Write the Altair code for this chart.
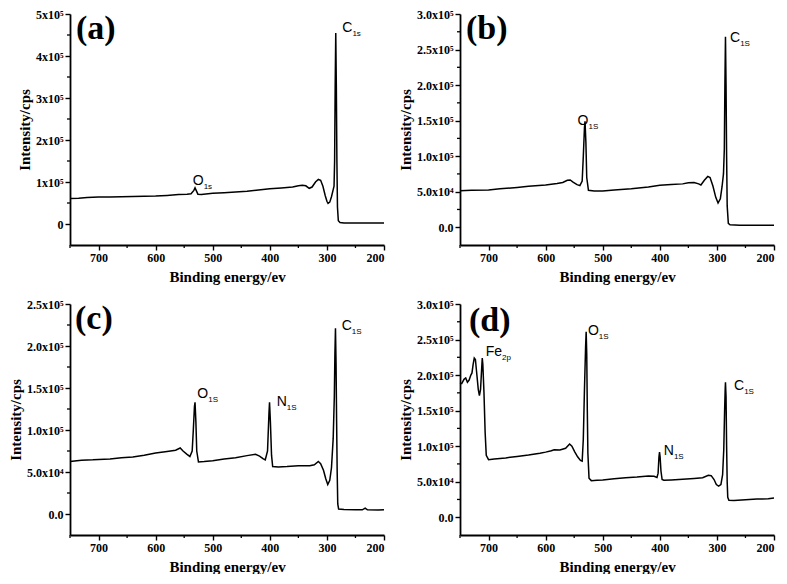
import altair as alt
import pandas as pd

# ---------------- data ----------------
a_x = [750, 735, 720, 700, 680, 660, 640, 620, 600, 580, 560, 545, 538, 533, 531, 529, 526, 520, 500, 480,
       460, 440, 420, 400, 380, 360, 350, 343, 337, 331, 326, 320, 315, 311, 307, 303, 300, 298, 295, 292,
       289, 287.5, 286.5, 285.5, 284.5, 283.5, 282.5, 281.5, 280, 277, 270, 250, 230, 200]
a_y = [61000, 61500, 63000, 64000, 64500, 65000, 65500, 66000, 66500, 68000, 70000, 71000, 72000, 80000, 86000,
       80000, 71000, 70500, 73000, 74500, 76000, 78000, 81000, 84000, 86000, 88000, 91000, 92500, 91000, 85000,
       88000, 100000, 106000, 104000, 90000, 68000, 54000, 49000, 52000, 65000, 82000, 90000, 150000, 330000,
       455000, 330000, 150000, 40000, 8000, 3500, 2500, 2500, 2500, 2500]

b_x = [750, 730, 700, 680, 650, 630, 600, 580, 570, 562, 557, 552, 545, 540, 536, 534, 532, 531, 529.5, 528,
       525, 515, 500, 480, 450, 420, 400, 380, 360, 350, 340, 332, 328, 322, 316, 312, 307, 302, 298, 294,
       291, 288.5, 287, 286, 285, 284, 283, 282, 280, 277, 260, 240, 200]
b_y = [51500, 52000, 52500, 54000, 56000, 57500, 59300, 61500, 63000, 66000, 66500, 63500, 60000, 58500, 65000,
       100000, 140000, 149000, 120000, 70000, 52000, 51000, 51000, 52500, 54000, 56500, 59000, 60000, 61000,
       62500, 63000, 61000, 59500, 66000, 71500, 70000, 58000, 42000, 34000, 40000, 57000, 75000, 110000,
       200000, 268000, 200000, 100000, 30000, 5500, 3500, 2800, 2800, 2800]

c_x = [750, 730, 710, 700, 680, 660, 640, 620, 600, 580, 565, 557, 552, 545, 540, 536, 534, 532, 531, 529.5,
       528, 525, 515, 500, 480, 460, 440, 425, 418, 412, 408, 404, 401.5, 400.5, 399, 397, 395, 385, 370, 350,
       330, 322, 315, 311, 306, 302, 298.5, 295, 292, 289, 287, 286, 285, 284, 283, 282, 281, 279.5, 270, 250,
       238, 233, 229, 210, 200]
c_y = [62500, 64000, 64500, 65000, 65500, 67000, 68000, 70000, 72500, 74500, 76000, 78600, 75000, 71000, 68500,
       75000, 100000, 128000, 133000, 110000, 75000, 62000, 62500, 63500, 65500, 67000, 69500, 71000, 69000,
       66000, 64500, 75000, 120000, 133000, 110000, 70000, 56500, 56000, 56500, 57500, 57500, 58500, 62500,
       60000, 52000, 42000, 35000, 40000, 55000, 90000, 140000, 190000, 221000, 180000, 110000, 50000, 12000,
       6000, 5500, 5000, 5000, 7000, 5000, 4800, 5000]

d_x = [750, 747, 743, 740, 737, 734, 731, 729, 727, 725, 723, 721, 718, 716, 714, 712, 711, 710, 708, 706,
       704, 700, 690, 670, 650, 630, 610, 600, 590, 585, 575, 565, 558, 554, 549, 544, 539, 536, 534, 532,
       530, 529, 528, 527, 526, 524, 520, 510, 500, 480, 460, 440, 420, 410, 405, 403, 401.5, 400.5, 399.5,
       398, 396, 393, 380, 360, 340, 325, 315, 310, 305, 301, 297, 293, 290, 288, 286.5, 285.5, 285, 284,
       283, 282, 281, 279, 270, 250, 230, 210, 200]
d_y = [189000, 188000, 194000, 196000, 190000, 193000, 200000, 203000, 215000, 224000, 222000, 205000, 180000,
       171000, 180000, 210000, 224000, 215000, 175000, 120000, 87000, 81000, 82000, 83500, 85600, 87500, 90000,
       91600, 93500, 95000, 94500, 97000, 103000, 100000, 92000, 85000, 80000, 79000, 110000, 180000, 240000,
       261000, 230000, 150000, 90000, 55000, 51500, 52000, 52500, 54000, 55500, 56500, 58000, 57500, 56000,
       62000, 85000, 91600, 85000, 65000, 53000, 52000, 52500, 53500, 54500, 55500, 59000, 58500, 53000, 46000,
       43700, 46000, 60000, 95000, 150000, 180000, 190000, 170000, 100000, 50000, 28000, 24000, 23500, 24500,
       25500, 26000, 27000]

x_ticks = [700, 600, 500, 400, 300, 200]
x_minor = [750, 650, 550, 450, 350, 250]

a_yticks = [0, 100000, 200000, 300000, 400000, 500000]
a_ylabels = ["0", "1x10\u2075", "2x10\u2075", "3x10\u2075", "4x10\u2075", "5x10\u2075"]
a_yminor = [50000, 150000, 250000, 350000, 450000]

bd_yticks = [0, 50000, 100000, 150000, 200000, 250000, 300000]
bd_ylabels = ["0.0", "5.0x10\u2074", "1.0x10\u2075", "1.5x10\u2075", "2.0x10\u2075", "2.5x10\u2075", "3.0x10\u2075"]
bd_yminor = [25000, 75000, 125000, 175000, 225000, 275000]

c_yticks = [0, 50000, 100000, 150000, 200000, 250000]
c_ylabels = ["0.0", "5.0x10\u2074", "1.0x10\u2075", "1.5x10\u2075", "2.0x10\u2075", "2.5x10\u2075"]
c_yminor = [25000, 75000, 125000, 175000, 225000]

# peak labels: (main, subscript, x, y)
a_peaks = [("C", "1s", 273, 466000), ("O", "1s", 535, 103000)]
b_peaks = [("C", "1S", 277, 266000), ("O", "1S", 544, 149000)]
c_peaks = [("C", "1S", 274, 224000), ("O", "1S", 527, 143000), ("N", "1S", 388, 133000)]
d_peaks = [("Fe", "2p", 705, 233000), ("O", "1S", 526, 262000), ("N", "1S", 393, 93000), ("C", "1S", 270, 185000)]

W = 314
H = 231
SERIF = "Liberation Serif"
SANS = "Liberation Sans"
CHAR_W = {"C": 10.1, "O": 10.9, "N": 10.1, "Fe": 16.3}


def label_expr(vals, labs):
    expr = "''"
    for v, l in reversed(list(zip(vals, labs))):
        expr = f"datum.value == {v} ? '{l}' : ({expr})"
    return expr


def panel(xs, ys, yticks, ylabels, yminor, ydomain, letter, peaks, letter_dx, letter_dy):
    df = pd.DataFrame({"x": xs, "y": ys})
    xscale = alt.Scale(domain=[200, 750], reverse=True, nice=False, zero=False)
    yscale = alt.Scale(domain=ydomain, nice=False, zero=False)
    xaxis = alt.Axis(values=x_ticks, title="Binding energy/ev", format="d", titlePadding=6,
                     labelOverlap=False)
    yaxis = alt.Axis(values=yticks, labelExpr=label_expr(yticks, ylabels),
                     title="Intensity/cps", titlePadding=3, labelOverlap=False)

    def X():
        return alt.X("x:Q", scale=xscale, axis=xaxis)

    def Y():
        return alt.Y("y:Q", scale=yscale, axis=yaxis)

    line = alt.Chart(df).mark_line(color="black", strokeWidth=1.5).encode(x=X(), y=Y())
    xm = alt.Chart(pd.DataFrame({"x": x_minor})).mark_rule(color="black", strokeWidth=1.3).encode(
        x=X(), y=alt.value(H), y2=alt.value(H + 3))
    ym = alt.Chart(pd.DataFrame({"y": yminor})).mark_rule(color="black", strokeWidth=1.3).encode(
        y=Y(), x=alt.value(0), x2=alt.value(-3))
    lt = alt.Chart(pd.DataFrame({"t": [letter]})).mark_text(
        font=SERIF, fontWeight="bold", fontSize=34, align="left", baseline="middle", color="black"
    ).encode(text="t:N", x=alt.value(letter_dx), y=alt.value(letter_dy))
    layers = [line, xm, ym, lt]
    for main, sub, px, py in peaks:
        pdf = pd.DataFrame({"x": [px], "y": [py], "m": [main], "s": [sub]})
        base = alt.Chart(pdf)
        layers.append(base.mark_text(font=SANS, fontSize=14, align="left", baseline="middle",
                                     color="black").encode(x=X(), y=Y(), text="m:N"))
        layers.append(base.mark_text(font=SANS, fontSize=8, align="left", baseline="middle",
                                     color="black", dx=CHAR_W[main], dy=6).encode(x=X(), y=Y(), text="s:N"))
    return alt.layer(*layers).properties(width=W, height=H)


pa = panel(a_x, a_y, a_yticks, a_ylabels, a_yminor, [-50000, 500000], "(a)", a_peaks, 6, 15)
pb = panel(b_x, b_y, bd_yticks, bd_ylabels, bd_yminor, [-25000, 300000], "(b)", b_peaks, 6, 15)
pc = panel(c_x, c_y, c_yticks, c_ylabels, c_yminor, [-25000, 250000], "(c)", c_peaks, 5, 15)
pd_ = panel(d_x, d_y, bd_yticks, bd_ylabels, bd_yminor, [-25000, 300000], "(d)", d_peaks, 9, 17)

chart = alt.concat(pa, pb, pc, pd_, columns=2, spacing={"row": 14, "column": 11}).properties(
    padding={"left": 0, "top": 0, "right": 0, "bottom": 0}
).configure_view(stroke=None).configure_axis(
    grid=False, domainColor="black", domainWidth=1.8, tickColor="black", tickWidth=1.4, tickSize=5,
    labelFont=SERIF, labelFontWeight="bold", labelFontSize=12, labelColor="black",
    titleFont=SERIF, titleFontWeight="bold", titleFontSize=15, titleColor="black",
    labelPadding=2, labelOverlap=False
)

chart.save("out.html", embed_options={"renderer": "svg", "actions": False})
